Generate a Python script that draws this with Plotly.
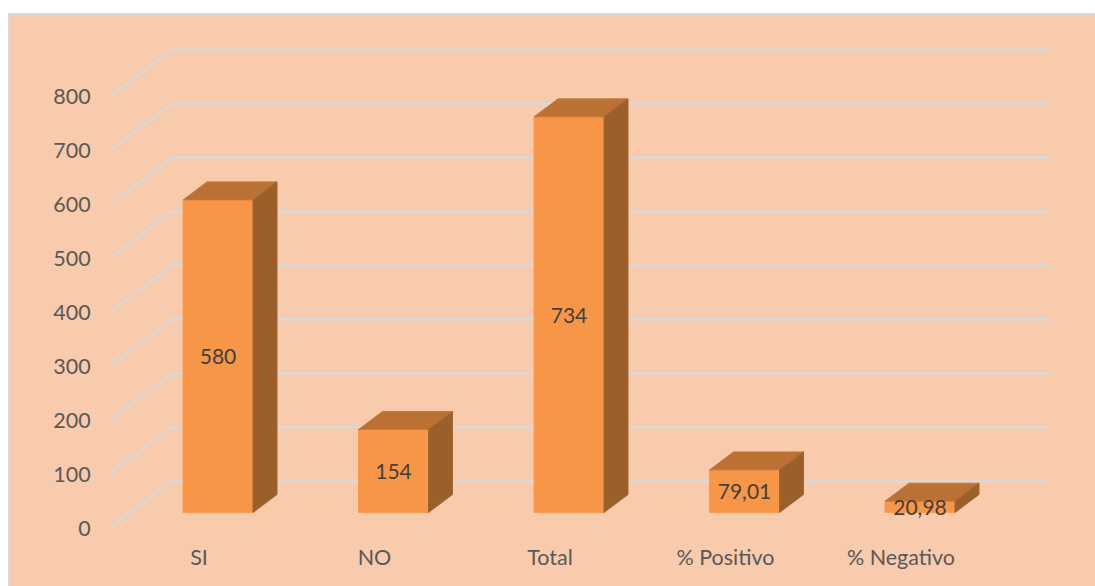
import plotly.graph_objects as go

categories = ["SI", "NO", "Total", "% Positivo", "% Negativo"]
values = [580, 154, 734, 79.01, 20.98]
value_labels = ["580", "154", "734", "79,01", "20,98"]
axis_values = [0, 100, 200, 300, 400, 500, 600, 700, 800]

W, H = 1095, 586
FONT = "Lato"
PEACH = "#F7CBAC"
GRID = "#D9D9D9"
FRONT = "#F79646"
TOP = "#BB7133"
SIDE = "#9B5F2A"

# pixel geometry of the fake 3D box (Excel style), all converted to data units below
L, R, T, B = 101, 1050, 30, 535
X0_PX, STEP_PX = 218, 175.5  # centre of the first bar, distance between bars
ZERO_PX, PX_PER_UNIT = 512.5, 0.539  # bar baseline, pixels per y unit


def to_x(dx_px):
    return dx_px / STEP_PX


def to_y(dy_px):
    return dy_px / PX_PER_UNIT


bar_w = to_x(70)
depth_x, depth_y = to_x(24), to_y(18)
wall_front_x, wall_back_x = to_x(111 - X0_PX), to_x(172 - X0_PX)
wall_end_x = to_x(1049 - X0_PX)
wall_front_y, wall_back_y = to_y(-14.2), to_y(31.5)

positions = list(range(len(categories)))

top_x, top_y, side_x, side_y = [], [], [], []
for p, v in zip(positions, values):
    left, right = p - bar_w / 2, p + bar_w / 2
    top_x += [left, right, right + depth_x, left + depth_x, left, None]
    top_y += [v, v, v + depth_y, v + depth_y, v, None]
    side_x += [right, right + depth_x, right + depth_x, right, right, None]
    side_y += [0, depth_y, v + depth_y, v, 0, None]

fig = go.Figure()
fig.add_bar(
    x=positions,
    y=values,
    width=bar_w,
    marker=dict(color=FRONT, line=dict(color="#FA9B50", width=1)),
    hoverinfo="skip",
)
fig.add_scatter(
    x=top_x,
    y=top_y,
    mode="lines",
    fill="toself",
    fillcolor=TOP,
    line=dict(color="#C47A3A", width=1),
    hoverinfo="skip",
)
fig.add_scatter(
    x=side_x,
    y=side_y,
    mode="lines",
    fill="toself",
    fillcolor=SIDE,
    line=dict(color="#A3652E", width=1),
    hoverinfo="skip",
)
# text sits a little low in the bars, same as the reference
fig.add_scatter(
    x=positions,
    y=[v / 2 - to_y(3) for v in values],
    mode="text",
    text=value_labels,
    textposition="middle center",
    textfont=dict(family=FONT, size=21, color="#404040"),
    hoverinfo="skip",
)

# panel behind everything
fig.add_shape(
    type="rect",
    xref="paper",
    yref="paper",
    x0=(9 - L) / (R - L),
    x1=(W + 5 - L) / (R - L),
    y0=(B - (H + 5)) / (B - T),
    y1=(B - 14) / (B - T),
    fillcolor=PEACH,
    line=dict(color=GRID, width=2),
    layer="below",
)

# walls: side wall diagonals joined to the back wall lines
for v in axis_values:
    fig.add_shape(
        type="line",
        x0=wall_front_x,
        y0=v + wall_front_y,
        x1=wall_back_x,
        y1=v + wall_back_y,
        line=dict(color=GRID, width=2.5),
        layer="below",
    )
    fig.add_shape(
        type="line",
        x0=wall_back_x,
        y0=v + wall_back_y,
        x1=wall_end_x,
        y1=v + wall_back_y,
        line=dict(color=GRID, width=2.5),
        layer="below",
    )

fig.update_layout(
    width=W,
    height=H,
    margin=dict(l=L, r=W - R, t=T, b=H - B, pad=0),
    paper_bgcolor="white",
    plot_bgcolor="rgba(0,0,0,0)",
    showlegend=False,
    font=dict(family=FONT, size=21.5, color="#595959"),
    xaxis=dict(
        range=[to_x(L - X0_PX), to_x(R - X0_PX)],
        tickmode="array",
        tickvals=[p - to_x(19) for p in positions],
        ticktext=categories,
        showgrid=False,
        zeroline=False,
        showline=False,
        ticks="outside",
        ticklen=3,
        tickcolor="rgba(0,0,0,0)",
    ),
    yaxis=dict(
        range=[to_y(ZERO_PX - B), to_y(ZERO_PX - T)],
        tickmode="array",
        tickvals=[v - to_y(15.5) for v in axis_values],
        ticktext=[str(v) for v in axis_values],
        showgrid=False,
        zeroline=False,
        showline=False,
        ticks="outside",
        ticklen=5,
        tickcolor="rgba(0,0,0,0)",
    ),
)

fig.write_html(
    "out.html",
    config={"displayModeBar": False},
    post_script="document.body.style.margin='0';document.body.style.overflow='hidden';",
)
